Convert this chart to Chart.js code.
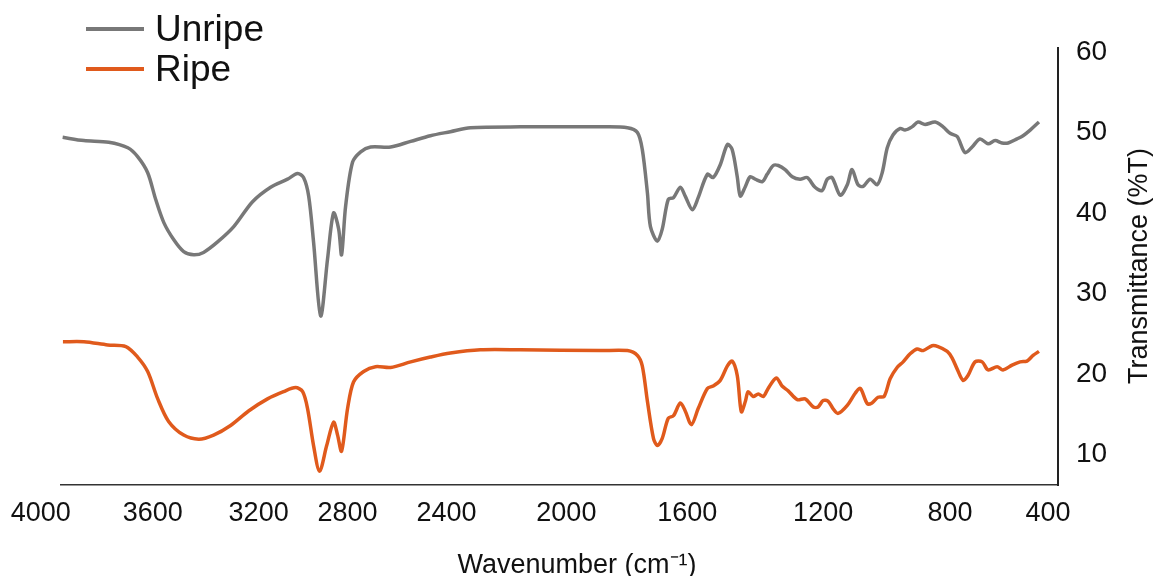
<!DOCTYPE html>
<html>
<head>
<meta charset="utf-8">
<script src="https://cdn.jsdelivr.net/npm/chart.js@4.4.1/dist/chart.umd.min.js"></script>
<style>
  html, body { margin: 0; padding: 0; background: #fff; }
</style>
</head>
<body>
<canvas id="ftir" width="1161" height="576"></canvas>
<script>
// axis tick labels
const xTickValues = [4000, 3600, 3200, 2800, 2400, 2000, 1600, 1200, 800, 400];
const yTickValues = [10, 20, 30, 40, 50, 60];

// Unripe spectrum (wavenumber cm-1, %T)
const unripeWavenumber = [
  3922, 3846, 3757, 3689, 3654, 3618, 3589, 3558, 3521, 3483,
  3445, 3408, 3355, 3294, 3223, 3146, 3070, 3025, 2998, 2975,
  2953, 2921, 2890, 2863, 2840, 2827, 2809, 2780, 2747, 2707,
  2626, 2545, 2465, 2387, 2320, 2153, 1888, 1798, 1765, 1749,
  1732, 1722, 1699, 1683, 1663, 1646, 1623, 1607, 1585, 1568,
  1541, 1524, 1503, 1482, 1468, 1453, 1444, 1429, 1415, 1400,
  1379, 1365, 1347, 1332, 1312, 1291, 1268, 1247, 1224, 1203,
  1187, 1172, 1146, 1124, 1109, 1090, 1074, 1052, 1030, 1014,
  998, 980, 957, 942, 920, 901, 879, 847, 822, 800,
  771, 739, 710, 678, 645, 616, 588, 563, 527, 502,
  473, 437
];
const unripeT = [
  49.4, 49.0, 48.8, 48.1, 47.0, 45.0, 41.7, 38.8, 36.7, 35.2,
  34.8, 35.1, 36.4, 38.3, 41.4, 43.2, 44.2, 44.9, 44.4, 42.1,
  36.4, 27.2, 34.3, 40.0, 38.0, 34.8, 40.8, 46.3, 47.6, 48.2,
  48.2, 48.9, 49.6, 50.1, 50.6, 50.7, 50.7, 50.6, 50.0, 47.9,
  42.5, 38.3, 36.5, 38.0, 41.7, 41.9, 43.2, 42.1, 40.4, 41.9,
  44.8, 44.4, 46.0, 48.5, 47.9, 44.5, 42.1, 43.3, 44.5, 44.2,
  43.9, 44.8, 45.9, 45.9, 45.4, 44.5, 44.2, 44.4, 43.2, 42.8,
  44.2, 44.4, 42.2, 43.5, 45.4, 43.5, 43.3, 44.2, 43.5, 45.0,
  48.1, 49.7, 50.5, 50.3, 50.7, 51.3, 51.0, 51.3, 50.7, 49.9,
  49.5, 47.5, 48.2, 49.2, 48.6, 49.0, 48.7, 48.7, 49.2, 49.6,
  50.3, 51.3
];

// Ripe spectrum
const ripeWavenumber = [
  3921, 3846, 3761, 3696, 3654, 3618, 3581, 3540, 3483, 3426,
  3370, 3306, 3238, 3160, 3088, 3034, 3002, 2980, 2953, 2926,
  2894, 2863, 2845, 2827, 2800, 2776, 2735, 2687, 2626, 2545,
  2465, 2387, 2287, 2153, 1888, 1798, 1765, 1749, 1732, 1712,
  1699, 1683, 1663, 1646, 1623, 1607, 1588, 1568, 1541, 1524,
  1503, 1482, 1468, 1453, 1441, 1429, 1421, 1406, 1391, 1376,
  1362, 1338, 1321, 1303, 1276, 1253, 1229, 1215, 1200, 1184,
  1169, 1153, 1124, 1099, 1083, 1061, 1046, 1027, 1008, 989,
  967, 948, 926, 904, 885, 857, 838, 809, 792, 771,
  747, 727, 698, 669, 645, 608, 584, 547, 514, 486,
  461, 437
];
const ripeT = [
  24.0, 24.0, 23.6, 23.4, 22.1, 20.3, 16.9, 14.1, 12.4, 11.9,
  12.4, 13.6, 15.4, 16.9, 17.8, 18.3, 17.8, 15.7, 11.1, 7.9,
  11.1, 14.0, 12.4, 10.4, 15.7, 19.0, 20.3, 20.9, 20.8, 21.5,
  22.1, 22.6, 23.0, 23.0, 22.9, 22.9, 22.3, 21.0, 16.6, 12.0,
  11.1, 12.0, 14.5, 14.8, 16.4, 15.4, 13.7, 15.7, 18.2, 18.5,
  19.2, 21.0, 21.6, 19.8, 15.3, 16.6, 17.8, 17.2, 17.5, 17.2,
  18.2, 19.5, 18.5, 17.9, 16.8, 16.9, 15.9, 15.9, 16.7, 16.6,
  15.7, 15.1, 16.1, 17.6, 18.2, 16.3, 16.4, 17.1, 17.2, 19.4,
  20.8, 21.5, 22.5, 23.1, 22.9, 23.5, 23.4, 22.8, 22.0, 20.6,
  19.2, 19.8, 21.5, 21.5, 20.5, 20.9, 20.5, 21.1, 21.5, 21.6,
  22.3, 22.8
];

const FONT = '"Liberation Sans", Arial, sans-serif';
const INK = '#111';

// The printed wavenumber labels are not evenly spaced along the axis, and the
// spectra follow them. So the x scale maps values piecewise between the spots
// where each label sits (fraction of the plot width from the left edge).
const xLabelSpots = [-0.020, 0.0922, 0.1984, 0.2876, 0.3868, 0.5070, 0.6283, 0.7645, 0.8918, 0.9900];

function wnToDecimal(v) {
  let i = 0;
  while (i < xTickValues.length - 2 && v < xTickValues[i + 1]) i++;
  const t = (v - xTickValues[i]) / (xTickValues[i + 1] - xTickValues[i]);
  return xLabelSpots[i] + t * (xLabelSpots[i + 1] - xLabelSpots[i]);
}

function decimalToWn(d) {
  let i = 0;
  while (i < xLabelSpots.length - 2 && d > xLabelSpots[i + 1]) i++;
  const t = (d - xLabelSpots[i]) / (xLabelSpots[i + 1] - xLabelSpots[i]);
  return xTickValues[i] + t * (xTickValues[i + 1] - xTickValues[i]);
}

class PiecewiseScale extends Chart.LinearScale {
  static id = 'piecewise';
  static defaults = {};

  getPixelForValue(value) {
    if (value === null || value === undefined || isNaN(value)) return NaN;
    return this.getPixelForDecimal(wnToDecimal(value));
  }

  getValueForPixel(pixel) {
    return decimalToWn(this.getDecimalForPixel(pixel));
  }
}
Chart.register(PiecewiseScale);

// legend and axis titles
const textPlugin = {
  id: 'ftirText',
  afterDraw(chart) {
    const ctx = chart.ctx;
    ctx.save();

    // legend, stacked top left
    chart.data.datasets.forEach((ds, i) => {
      const y = 29 + i * 40;
      ctx.strokeStyle = ds.borderColor;
      ctx.lineWidth = 4;
      ctx.beginPath();
      ctx.moveTo(86, y);
      ctx.lineTo(144, y);
      ctx.stroke();
      ctx.fillStyle = INK;
      ctx.font = '37px ' + FONT;
      ctx.textAlign = 'left';
      ctx.textBaseline = 'alphabetic';
      ctx.fillText(ds.label, 155, y + 12);
    });

    // x title
    ctx.font = '27px ' + FONT;
    ctx.textAlign = 'center';
    ctx.fillText('Wavenumber (cm\u207B\u00B9)', 577, 573);

    // y title, reading upwards
    ctx.translate(1140, 266);
    ctx.rotate(-Math.PI / 2);
    ctx.textBaseline = 'middle';
    ctx.fillText('Transmittance (%T)', 0, 0);

    ctx.restore();
  }
};

new Chart(document.getElementById('ftir'), {
  type: 'line',
  data: {
    datasets: [
      {
        label: 'Unripe',
        data: unripeWavenumber.map((x, i) => ({ x: x, y: unripeT[i] })),
        borderColor: '#787878',
        backgroundColor: '#787878',
        borderWidth: 3.5,
        pointRadius: 0,
        fill: false,
        tension: 0.3
      },
      {
        label: 'Ripe',
        data: ripeWavenumber.map((x, i) => ({ x: x, y: ripeT[i] })),
        borderColor: '#e05a1c',
        backgroundColor: '#e05a1c',
        borderWidth: 3.5,
        pointRadius: 0,
        fill: false,
        tension: 0.3
      }
    ]
  },
  options: {
    responsive: false,
    animation: false,
    events: [],
    layout: { padding: { left: 60, top: 48, right: 0, bottom: 0 } },
    plugins: {
      legend: { display: false },
      tooltip: { enabled: false }
    },
    scales: {
      x: {
        type: 'piecewise',
        position: 'bottom',
        min: 350,
        max: 3950,
        grid: { display: false, drawTicks: false },
        border: { display: true, color: '#333', width: 1.5 },
        ticks: {
          autoSkip: false,
          minRotation: 0,
          maxRotation: 0,
          padding: 12,
          color: INK,
          font: { family: FONT, size: 27 },
          callback: (v) => String(v)
        },
        afterBuildTicks: (scale) => {
          scale.ticks = xTickValues.map(v => ({ value: v }));
        },
        afterFit: (scale) => { scale.height = 91; }
      },
      y: {
        position: 'right',
        min: 6.2,
        max: 60.5,
        grid: { display: false, drawTicks: false },
        border: { display: true, color: '#222', width: 2 },
        ticks: {
          padding: 18,
          color: INK,
          font: { family: FONT, size: 28 }
        },
        afterBuildTicks: (scale) => {
          scale.ticks = yTickValues.map(v => ({ value: v }));
        },
        afterFit: (scale) => { scale.width = 103; }
      }
    }
  },
  plugins: [textPlugin]
});
</script>
</body>
</html>
